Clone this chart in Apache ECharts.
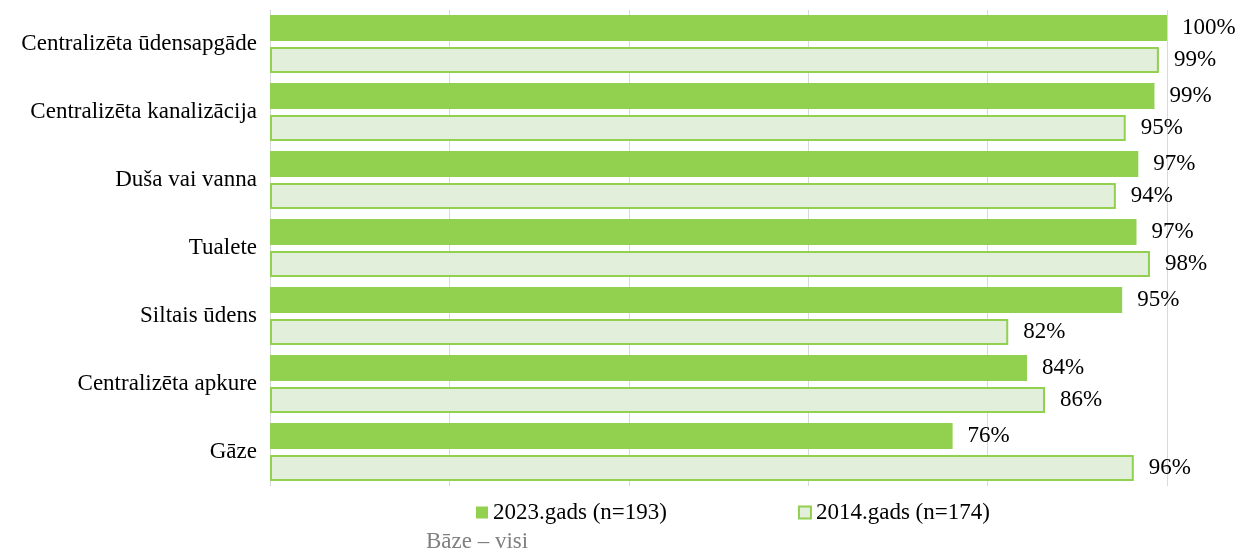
<!DOCTYPE html>
<html>
<head>
<meta charset="utf-8">
<script src="https://cdn.jsdelivr.net/npm/echarts@6/dist/echarts.min.js"></script>
<style>
  html, body { margin: 0; padding: 0; background: #fff; }
  #chart { width: 1243px; height: 556px; }
</style>
</head>
<body>
<div id="chart"></div>
<script>
const categories = [
  'Centralizēta ūdensapgāde',
  'Centralizēta kanalizācija',
  'Duša vai vanna',
  'Tualete',
  'Siltais ūdens',
  'Centralizēta apkure',
  'Gāze'
]
const values2023 = [100, 98.6, 96.8, 96.6, 95.0, 84.4, 76.1]
const values2014 = [99.1, 95.4, 94.3, 98.1, 82.3, 86.4, 96.3]
const seriesNames = ['2023.gads (n=193)', '2014.gads (n=174)']
const baseNote = 'Bāze – visi'

const font = 'Liberation Serif, Times New Roman, serif'
const green = '#92D050'
const lightGreen = '#E2EFDA'

const chart = echarts.init(document.getElementById('chart'))

const label = {
  show: true,
  position: 'right',
  distance: 15,
  color: '#000',
  fontFamily: font,
  fontSize: 23,
  formatter: p => Math.round(p.value) + '%'
}

chart.setOption({
  animation: false,
  grid: { left: 270, right: 76, top: 10, bottom: 70 },
  legend: {
    left: 471,
    top: 496,
    itemWidth: 12,
    itemHeight: 12,
    itemGap: 131,
    textStyle: { fontFamily: font, fontSize: 23, color: '#000' },
    data: [
      { name: seriesNames[0], icon: 'rect' },
      { name: seriesNames[1], icon: 'rect' }
    ]
  },
  xAxis: {
    type: 'value',
    min: 0,
    max: 100,
    interval: 20,
    axisLabel: { show: false },
    axisLine: { show: false },
    axisTick: { show: false },
    splitLine: { lineStyle: { color: '#d9d9d9', width: 1 } }
  },
  yAxis: {
    type: 'category',
    inverse: true,
    data: categories,
    axisTick: { show: false },
    axisLine: { lineStyle: { color: '#d9d9d9' } },
    axisLabel: { color: '#000', fontFamily: font, fontSize: 23, margin: 13 }
  },
  graphic: [{
    type: 'text',
    left: 426,
    top: 530,
    style: { text: baseNote, fill: '#808080', font: '23px ' + font }
  }],
  series: [
    {
      name: seriesNames[0],
      type: 'bar',
      data: values2023,
      barWidth: 26,
      barGap: '23%',
      itemStyle: { color: green },
      label: label
    },
    {
      name: seriesNames[1],
      type: 'bar',
      data: values2014,
      barWidth: 26,
      itemStyle: { color: lightGreen, borderColor: green, borderWidth: 2 },
      label: label
    }
  ]
})
</script>
</body>
</html>
